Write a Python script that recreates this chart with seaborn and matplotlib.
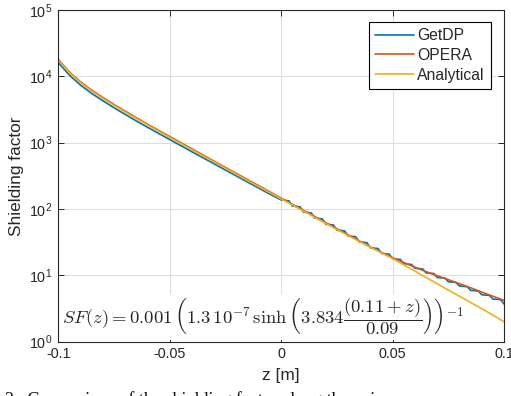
import numpy as np
import pandas as pd
import seaborn as sns
import matplotlib
matplotlib.use("Agg")
import matplotlib.pyplot as plt
from matplotlib.ticker import FixedLocator, NullLocator

# z positions [m] read along the axis
z_grid = [-0.1, -0.095, -0.09, -0.085, -0.08, -0.075, -0.07, -0.065, -0.06, -0.055,
          -0.05, -0.045, -0.04, -0.035, -0.03, -0.025, -0.02, -0.015, -0.01, -0.005,
          0.0, 0.005, 0.01, 0.015, 0.02, 0.025, 0.03, 0.035, 0.04, 0.045,
          0.05, 0.055, 0.06, 0.065, 0.07, 0.075, 0.08, 0.085, 0.09, 0.095, 0.1]

analytical_sf = [17500, 11300, 8000, 6000, 4650, 3650, 2900, 2310, 1850, 1490,
                 1200, 970, 780, 630, 510, 412, 333, 269, 217, 176,
                 142, 115, 93, 75, 60.5, 49, 39.8, 32.5, 26.5, 21.8,
                 17.9, 14.4, 11.6, 9.3, 7.5, 6.0, 4.85, 3.9, 3.15, 2.52, 2.0]

opera_sf = [18000, 11600, 8250, 6200, 4800, 3760, 2990, 2380, 1900, 1535,
            1235, 1000, 805, 650, 525, 424, 343, 277, 224, 181,
            146, 118, 96, 77.5, 62.5, 50.5, 41, 33.2, 27, 22.2,
            18.5, 15.6, 13.3, 11.4, 9.9, 8.6, 7.5, 6.5, 5.6, 4.85, 4.2]

# GetDP is a bit lower and shows a small staircase on the right
getdp_z = [-0.1, -0.095, -0.09, -0.085, -0.08, -0.075, -0.07, -0.065, -0.06, -0.055,
           -0.05, -0.045, -0.04, -0.035, -0.03, -0.025, -0.02, -0.015, -0.01, -0.005,
           0.0, 0.0035, 0.005, 0.0085, 0.01, 0.0135, 0.015, 0.0185, 0.02, 0.0235,
           0.025, 0.0285, 0.03, 0.0335, 0.035, 0.0385, 0.04, 0.0435, 0.045, 0.0485,
           0.05, 0.0535, 0.055, 0.0585, 0.06, 0.0635, 0.065, 0.0685, 0.07, 0.0735,
           0.075, 0.0785, 0.08, 0.0835, 0.085, 0.0885, 0.09, 0.0935, 0.095, 0.0985, 0.1]
getdp_sf = [16100, 10400, 7360, 5520, 4280, 3360, 2670, 2125, 1710, 1380,
            1115, 902, 728, 590, 478, 387, 314, 254, 206, 167,
            137, 133, 111, 108, 90, 87.5, 73, 71, 59, 57.5,
            48, 46.8, 39.2, 38.2, 31.9, 31.1, 26.0, 25.4, 21.4, 20.9,
            17.8, 17.4, 15.0, 14.6, 12.8, 12.5, 10.9, 10.65, 9.3, 9.1,
            8.0, 7.8, 6.9, 6.75, 5.95, 5.8, 5.1, 4.98, 4.4, 4.3, 3.7]

x_ticks = [-0.1, -0.05, 0, 0.05, 0.1]
x_tick_labels = ["-0.1", "-0.05", "0", "0.05", "0.1"]
y_ticks = [1, 10, 100, 1000, 10000, 100000]
y_tick_labels = [f"10$^{{{k}}}$" for k in range(6)]

colors = {"GetDP": "#0072BD", "OPERA": "#D95319", "Analytical": "#EDB120"}

sns.set_theme(style="ticks")
plt.rcParams["font.family"] = ["Liberation Sans", "DejaVu Sans"]
plt.rcParams["mathtext.fontset"] = "custom"
plt.rcParams["mathtext.rm"] = "Liberation Sans"
plt.rcParams["mathtext.it"] = "Liberation Sans:italic"
plt.rcParams["axes.unicode_minus"] = False

W, H = 511, 396
fig = plt.figure(figsize=(W / 100, H / 100), dpi=100)
left, right, top, bottom = 58.3, 504, 10, 341.7
ax = fig.add_axes([left / W, 1 - bottom / H, (right - left) / W, (bottom - top) / H])

df = pd.concat([
    pd.DataFrame({"z": getdp_z, "sf": getdp_sf, "src": "GetDP"}),
    pd.DataFrame({"z": z_grid, "sf": opera_sf, "src": "OPERA"}),
    pd.DataFrame({"z": z_grid, "sf": analytical_sf, "src": "Analytical"}),
])
for name in ["GetDP", "OPERA", "Analytical"]:
    sns.lineplot(data=df[df["src"] == name], x="z", y="sf", ax=ax, sort=False,
                 color=colors[name], lw=1.2, label=name, zorder=2)

ax.set_yscale("log")
ax.set_xlim(-0.1, 0.1)
ax.set_ylim(1, 1e5)
ax.xaxis.set_major_locator(FixedLocator(x_ticks))
ax.set_xticklabels(x_tick_labels)
ax.yaxis.set_major_locator(FixedLocator(y_ticks))
ax.yaxis.set_minor_locator(NullLocator())
ax.set_yticklabels(y_tick_labels)

ink = "#262626"
ax.set_axisbelow(True)
ax.grid(True, color="#dcdcdc", lw=0.7)
for s in ax.spines.values():
    s.set_visible(True)
    s.set_color(ink)
    s.set_linewidth(0.8)
ax.tick_params(direction="in", length=4, width=0.7, color=ink, labelcolor=ink,
               labelsize=10.4, top=True, right=True, pad=4)
ax.set_xlabel("z [m]", fontsize=12.4, color=ink, labelpad=5)
ax.set_ylabel("Shielding factor", fontsize=12.4, color=ink, labelpad=4)

leg = ax.legend(loc="upper right",
                bbox_to_anchor=((491 - left) / (right - left), 1 - 12 / (bottom - top)),
                borderaxespad=0, fancybox=False, edgecolor="#000000", framealpha=1,
                fontsize=11.3, handlelength=2.5, handletextpad=0.2,
                labelspacing=0.3, borderpad=0.4)
leg.get_frame().set_linewidth(0.8)
for t in leg.get_texts():
    t.set_color(ink)

formula = (r"$SF(z) = 0.001\,\left(1.3\,10^{-7}\,\sinh\left(3.834"
           r"\dfrac{(0.11+z)}{0.09}\right)\right)^{-1}$")
ax.text((62 - left) / (right - left), (bottom - 317) / (bottom - top), formula,
        transform=ax.transAxes, fontsize=13.4, math_fontfamily="cm",
        ha="left", va="center", zorder=1,
        bbox=dict(facecolor="white", edgecolor="none", pad=2))

fig.text(5 / W, 5 / H, "2.  Comparison of the shielding factor along the axis",
         fontsize=13, family="Liberation Serif", ha="left", va="top", color="#111111")

fig.savefig("out.png", dpi=100)
